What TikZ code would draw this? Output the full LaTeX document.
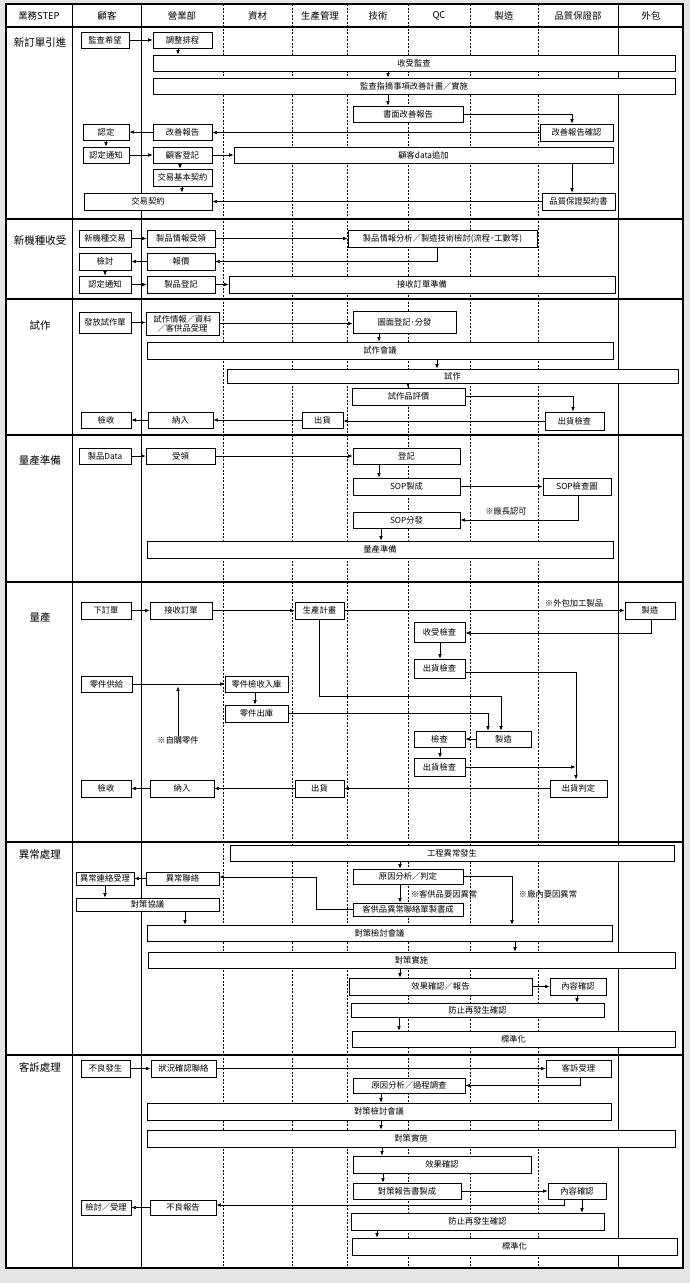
\documentclass[tikz,border=0pt]{standalone}
\usepackage{fontspec}
\newfontfamily\cjk{Noto Sans CJK TC}
\usetikzlibrary{arrows.meta,shadows}
\definecolor{bggray}{RGB}{230,230,230}
\newcommand\bx[6]{\node[bx,minimum width={(#4)-(#2)},minimum height={(#5)-(#3)}] (#1) at ({((#2)+(#4))/2},{((#3)+(#5))/2}) {#6};}
\begin{document}
\begin{tikzpicture}[x=1pt,y=-1pt,
  bx/.style={draw,fill=white,line width=0.7pt,inner sep=0pt,align=center,
    font=\cjk\fontsize{8.3}{9.3}\selectfont,
    drop shadow={shadow xshift=0.8pt,shadow yshift=-0.8pt,opacity=1,fill=black}},
  arr/.style={-{Latex[length=4.5pt,width=3.6pt]},line width=0.6pt},
  hdr/.style={font=\cjk\fontsize{9.4}{10}\selectfont,inner sep=0pt},
  steplbl/.style={font=\cjk\fontsize{10.5}{11}\selectfont,inner sep=0pt},
  notetxt/.style={font=\cjk\fontsize{8.3}{9}\selectfont,inner sep=0pt},
  lane/.style={line width=0.5pt,dash pattern=on 2pt off 1.5pt},
  solidlane/.style={line width=0.8pt},
  secline/.style={line width=1.2pt}]
\useasboundingbox (0,0) rectangle (690,1283);
\fill[bggray] (0,0) rectangle (690,1283);
\fill[white] (6,4) rectangle (683,1268);
% lanes
\foreach \x in {223,292,347.5,408,470,538} \draw[lane] (\x,4) -- (\x,1268);
\foreach \x in {72.7,141,618} \draw[solidlane] (\x,4) -- (\x,1268);
\foreach \y in {27,219,299,435,582,842,1055} \draw[secline] (6,\y) -- (683,\y);
\draw[line width=1.2pt] (6,4) rectangle (683,1268);
% header
\node[hdr] (h0) at (39,16) {業務STEP};
\node[hdr] (h1) at (107,16) {顧客};
\node[hdr] (h2) at (182,16) {營業部};
\node[hdr] (h3) at (257.5,16) {資材};
\node[hdr] (h4) at (320,16) {生產管理};
\node[hdr] (h5) at (378,16) {技術};
\node[hdr] (h6) at (439,16) {QC};
\node[hdr] (h7) at (504,16) {製造};
\node[hdr] (h8) at (578,16) {品質保證部};
\node[hdr] (h9) at (651,16) {外包};
% step labels
\node[steplbl] (l1) at (40,42) {新訂單引進};
\node[steplbl] (l2) at (40,240) {新機種收受};
\node[steplbl] (l3) at (40,325) {試作};
\node[steplbl] (l4) at (40,461) {量產準備};
\node[steplbl] (l5) at (40,618) {量產};
\node[steplbl] (l6) at (40,855) {異常處理};
\node[steplbl] (l7) at (40,1067) {客訴處理};
% ---------- section 1
\bx{s1a}{81}{32}{129}{48}{監查希望}
\bx{s1b}{153}{32}{212}{48}{調整排程}
\bx{s1c}{153}{55}{675}{71}{收受監查}
\bx{s1d}{153}{78}{675}{94}{監查指摘事項改善計畫／實施}
\bx{s1e}{353}{106}{463}{122}{書面改善報告}
\bx{s1f}{540}{124}{613}{141}{改善報告確認}
\bx{s1g}{153}{124}{212}{140}{改善報告}
\bx{s1h}{83}{124}{129}{140}{認定}
\bx{s1i}{83}{147}{129}{163}{認定通知}
\bx{s1j}{153}{147}{212}{163}{顧客登記}
\bx{s1k}{234}{147}{613}{163}{顧客data追加}
\bx{s1l}{153}{169}{212}{186}{交易基本契約}
\bx{s1m}{84}{193}{212}{210}{交易契約}
\bx{s1n}{542}{193}{615}{210}{品質保證契約書}
\draw[arr] (s1a.east) -- (s1b.west);
\draw[arr] (s1b.south -| 178,0) -- (s1c.north -| 178,0);
\draw[arr] (s1c.south -| 388,0) -- (s1d.north -| 388,0);
\draw[arr] (s1d.south -| 388,0) -- (s1e.north -| 388,0);
\draw[arr] (s1e.east) -| (s1f.north -| 572,0);
\draw[arr] (s1f.west) -- (s1g.east |- s1f.west);
\draw[arr] (s1g.west) -- (s1h.east);
\draw[arr] (s1h.south) -- (s1i.north);
\draw[arr] (s1i.east) -- (s1j.west);
\draw[arr] (s1j.east) -- (s1k.west);
\draw[arr] (s1j.south -| 180,0) -- (s1l.north -| 180,0);
\draw[arr] (s1l.south -| 182,0) -- (s1m.north -| 182,0);
\draw[arr] (s1k.south -| 572,0) -- (s1n.north -| 572,0);
\draw[arr] (s1n.west) -- (s1m.east |- s1n.west);
% ---------- section 2
\bx{s2a}{79}{230}{131}{247}{新機種交易}
\bx{s2b}{147}{230}{215}{247}{製品情報受領}
\bx{s2c}{348}{230}{537}{247}{製品情報分析／製造技術檢討(流程･工數等)}
\bx{s2d}{79}{253}{131}{270}{檢討}
\bx{s2e}{147}{253}{215}{270}{報價}
\bx{s2f}{79}{276}{131}{293}{認定通知}
\bx{s2g}{147}{276}{215}{293}{製品登記}
\bx{s2h}{229}{276}{615}{293}{接收訂單準備}
\draw[arr] (s2a.east) -- (s2b.west);
\draw[arr] (s2b.east) -- (s2c.west);
\draw[arr] (s2c.south -| 437,0) |- (s2e.east);
\draw[arr] (s2e.west) -- (s2d.east);
\draw[arr] (s2d.south) -- (s2f.north);
\draw[arr] (s2f.east) -- (s2g.west);
\draw[arr] (s2g.east) -- (s2h.west);
% ---------- section 3
\bx{s3a}{79}{312}{131}{333}{發放試作單}
\bx{s3b}{146}{312}{219}{335}{試作情報／資料\\／客供品受理}
\bx{s3c}{353}{311}{456}{333}{圖面登記･分發}
\bx{s3d}{147}{342}{613}{359}{試作會議}
\bx{s3e}{227}{369}{678}{383}{試作}
\bx{s3f}{352}{388}{465}{405}{試作品評價}
\bx{s3g}{545}{412}{604}{430}{出貨檢查}
\bx{s3h}{302}{412}{343}{428}{出貨}
\bx{s3i}{148}{412}{213}{428}{納入}
\bx{s3j}{81}{412}{131}{428}{檢收}
\draw[arr] (s3a.east) -- (s3b.west |- s3a.east);
\draw[arr] (s3b.east) -- (s3c.west |- s3b.east);
\draw[arr] (s3c.south -| 379,0) -- (s3d.north -| 379,0);
\draw[arr] (s3d.south -| 437,0) -- (s3e.north -| 437,0);
\draw[arr] (s3e.south -| 408,0) -- (s3f.north -| 408,0);
\draw[arr] (s3f.east) -| (s3g.north -| 573,0);
\draw[arr] (s3g.west) -- (s3h.east |- s3g.west);
\draw[arr] (s3h.west) -- (s3i.east);
\draw[arr] (s3i.west) -- (s3j.east);
% ---------- section 4
\bx{s4a}{79}{448}{131}{464}{製品Data}
\bx{s4b}{146}{448}{215}{464}{受領}
\bx{s4c}{353}{448}{460}{464}{登記}
\bx{s4d}{353}{478}{460}{495}{SOP製成}
\bx{s4e}{543}{478}{611}{495}{SOP檢查圖}
\bx{s4f}{353}{512}{460}{528}{SOP分發}
\bx{s4g}{147}{541}{613}{558}{量產準備}
\node[notetxt] (n4) at (506,511) {※廠長認可};
\draw[arr] (s4a.east) -- (s4b.west);
\draw[arr] (s4b.east) -- (s4c.west);
\draw[arr] (s4c.south -| 379,0) -- (s4d.north -| 379,0);
\draw[arr] (s4d.east) -- (s4e.west);
\draw[arr] (s4e.south -| 578,0) |- (s4f.east |- 0,520);
\draw[arr] (s4f.south -| 381,0) -- (s4g.north -| 381,0);
% ---------- section 5
\bx{s5a}{81}{602}{131}{619}{下訂單}
\bx{s5b}{150}{602}{212}{619}{接收訂單}
\bx{s5c}{295}{602}{344}{619}{生產計畫}
\bx{s5d}{625}{602}{675}{619}{製造}
\bx{s5e}{414}{622}{465}{642}{收受檢查}
\bx{s5f}{414}{659}{465}{678}{出貨檢查}
\bx{s5g}{81}{676}{132}{692}{零件供給}
\bx{s5h}{225}{676}{288}{692}{零件檢收入庫}
\bx{s5i}{225}{705}{288}{722}{零件出庫}
\bx{s5j}{476}{731}{531}{747}{製造}
\bx{s5k}{414}{731}{465}{747}{檢查}
\bx{s5l}{414}{758}{465}{776}{出貨檢查}
\bx{s5m}{550}{780}{607}{797}{出貨判定}
\bx{s5n}{295}{780}{344}{797}{出貨}
\bx{s5o}{150}{780}{214}{797}{納入}
\bx{s5p}{81}{780}{131}{797}{檢收}
\node[notetxt] (n5a) at (574,603) {※外包加工製品};
\node[notetxt] (n5b) at (178,740) {※自購零件};
\draw[arr] (s5a.east) -- (s5b.west);
\draw[arr] (s5b.east) -- (s5c.west);
\draw[arr] (s5c.east) -- (s5d.west);
\draw[arr] (s5d.south -| 651,0) |- (s5e.east |- 0,633);
\draw[arr] (s5e.south -| 440,0) -- (s5f.north -| 440,0);
\draw[arr] (s5f.east |- 0,672) -| (s5m.north -| 576,0);
\draw[arr] (s5g.east) -- (s5h.west);
\draw[arr] (n5b.north) -- (n5b.north |- 0,686.5);
\draw[arr] (s5h.south -| 255,0) -- (s5i.north -| 255,0);
\draw[arr] (s5i.east) -| (s5j.north -| 488,0);
\draw[arr] (s5c.south -| 319,0) |- (501,696) -- (s5j.north -| 501,0);
\draw[arr] (s5j.west) -- (s5k.east);
\draw[arr] (s5k.south -| 440,0) -- (s5l.north -| 440,0);
\draw[arr] (s5l.east) -- (s5l.east -| 575.5,0);
\draw[arr] (s5m.west) -- (s5n.east);
\draw[arr] (s5n.west) -- (s5o.east);
\draw[arr] (s5o.west) -- (s5p.east);
% ---------- section 6
\bx{s6a}{230}{845}{674}{861}{工程異常發生}
\bx{s6b}{353}{869}{463}{884}{原因分析／判定}
\bx{s6c}{76}{872}{134}{885}{異常連絡受理}
\bx{s6d}{146}{872}{219}{885}{異常聯絡}
\bx{s6e}{76}{898}{219}{911}{對策協議}
\bx{s6f}{353}{903}{463}{916}{客供品異常聯絡單製書成}
\bx{s6g}{147}{925}{612}{941}{對策檢討會議}
\bx{s6h}{148}{952}{675}{968}{對策實施}
\bx{s6i}{349}{978}{532}{995}{效果確認／報告}
\bx{s6j}{550}{978}{606}{995}{內容確認}
\bx{s6k}{351}{1003}{604}{1017}{防止再發生確認}
\bx{s6l}{352}{1031}{675}{1047}{標準化}
\node[notetxt] (n6a) at (444,894) {※客供品要因異常};
\node[notetxt] (n6b) at (548,894) {※廠內要因異常};
\draw[arr] (s6a.south -| 400,0) -- (s6b.north -| 400,0);
\draw[arr] (s6b.south -| 400,0) -- (s6f.north -| 400,0);
\draw[arr] (s6b.east) -| (s6g.north -| 512,0);
\draw[arr] (s6f.west) -| (316,877) -- (s6d.east |- 0,877);
\draw[arr] (s6d.west) -- (s6c.east);
\draw[arr] (s6c.south -| 105,0) -- (s6e.north -| 105,0);
\draw[arr] (s6e.south -| 185,0) -- (s6g.north -| 185,0);
\draw[arr] (s6g.south -| 515,0) -- (s6h.north -| 515,0);
\draw[arr] (s6h.south -| 400,0) -- (s6i.north -| 400,0);
\draw[arr] (s6i.east) -- (s6j.west);
\draw[arr] (s6j.south -| 577,0) -- (s6k.north -| 577,0);
\draw[arr] (s6k.south -| 399,0) -- (s6l.north -| 399,0);
% ---------- section 7
\bx{s7a}{81}{1060}{130}{1077}{不良發生}
\bx{s7b}{151}{1060}{216}{1077}{狀況確認聯絡}
\bx{s7c}{546}{1060}{611}{1077}{客訴受理}
\bx{s7d}{353}{1078}{465}{1093}{原因分析／過程調查}
\bx{s7e}{147}{1103}{611}{1120}{對策檢討會議}
\bx{s7f}{147}{1130}{675}{1147}{對策實施}
\bx{s7g}{353}{1156}{531}{1173}{效果確認}
\bx{s7h}{353}{1183}{461}{1199}{對策報告書製成}
\bx{s7i}{548}{1183}{606}{1199}{內容確認}
\bx{s7j}{81}{1200}{131}{1215}{檢討／受理}
\bx{s7k}{150}{1200}{216}{1215}{不良報告}
\bx{s7l}{351}{1213}{604}{1230}{防止再發生確認}
\bx{s7m}{352}{1238}{677}{1255}{標準化}
\draw[arr] (s7a.east) -- (s7b.west);
\draw[arr] (s7b.east) -- (s7c.west);
\draw[arr] (s7c.south -| 580,0) |- (s7d.east);
\draw[arr] (s7d.south -| 381,0) -- (s7e.north -| 381,0);
\draw[arr] (s7e.south -| 381,0) -- (s7f.north -| 381,0);
\draw[arr] (s7f.south -| 382,0) -- (s7g.north -| 382,0);
\draw[arr] (s7g.south -| 383,0) -- (s7h.north -| 383,0);
\draw[arr] (s7h.east) -- (s7i.west);
\draw[arr] (s7i.south -| 564,0) |- (s7k.east |- 0,1205);
\draw[arr] (s7i.south -| 582,0) -- (s7l.north -| 582,0);
\draw[arr] (s7k.west) -- (s7j.east |- s7k.west);
\draw[arr] (s7l.south -| 377,0) -- (s7m.north -| 377,0);
\end{tikzpicture}
\end{document}
